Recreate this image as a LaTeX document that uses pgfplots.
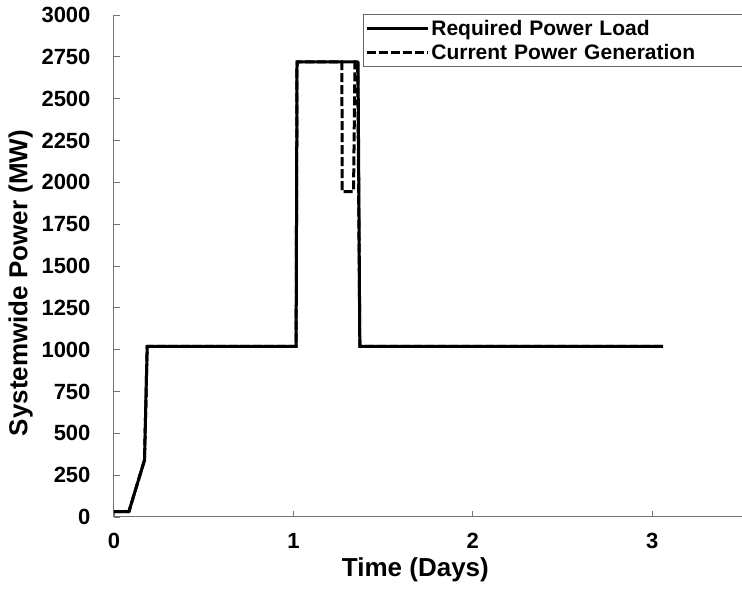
\documentclass[border=0pt]{standalone}
\usepackage{fontspec}
\setmainfont{Liberation Sans}
\usepackage{pgfplots}
\pgfplotsset{compat=1.18}
\begin{document}
\begin{tikzpicture}
\useasboundingbox (-114pt,-76pt) rectangle (628pt,517pt);
\begin{axis}[
  scale only axis,
  width=628pt, height=502pt,
  anchor=south west, at={(0pt,0pt)},
  xmin=0, xmax=3.5, ymin=0, ymax=3000,
  xtick={0,1,2,3},
  ytick={0,250,...,3000},
  axis x line*=bottom, axis y line*=left,
  axis line style={draw=gray!90!black, line width=1pt, -},
  tick style={draw=gray!90!black, line width=0.8pt},
  tick align=inside,
  major tick length=6pt,
  /pgf/number format/assume math mode=true,
  /pgf/number format/1000 sep={},
  ticklabel style={font=\fontsize{22}{24}\selectfont\bfseries},
  yticklabel style={xshift=-20pt},
  xticklabel style={yshift=-13pt},
  xlabel={Time (Days)},
  ylabel={Systemwide Power (MW)},
  label style={font=\fontsize{26}{28}\selectfont\bfseries},
  xlabel style={at={(ticklabel cs:0.48)}, yshift=-2pt},
  ylabel style={at={(ticklabel cs:0.466)}, yshift=2pt},
  legend style={at={(0.3965,1.002)}, anchor=north west, draw=gray!80!black, line width=0.8pt,
    font=\fontsize{21}{23}\selectfont\bfseries, inner xsep=2pt, inner ysep=4pt, row sep=3pt,
    legend cell align=left, cells={anchor=west, text width=308pt, inner xsep=3pt}},
  legend image code/.code={\draw[#1] (0pt,0pt) -- (61pt,0pt);},
]
\addplot[black, line width=3pt, line join=round] coordinates {
(0,32) (0.083,32) (0.17,340) (0.185,1020) (1.015,1020) (1.02,2720) (1.36,2720) (1.37,1020) (3.06,1020)};
\addlegendentry{Required Power Load}
\addplot[black, line width=3pt, dash pattern=on 9pt off 3pt] coordinates {
(0,32) (0.083,32) (0.17,340) (0.185,1020) (1.015,1020) (1.02,2720) (1.27,2720) (1.272,1945) (1.335,1945) (1.343,2720) (1.358,2720) (1.37,1020) (3.06,1020)};
\addlegendentry{Current Power Generation}
\end{axis}
\end{tikzpicture}
\end{document}
